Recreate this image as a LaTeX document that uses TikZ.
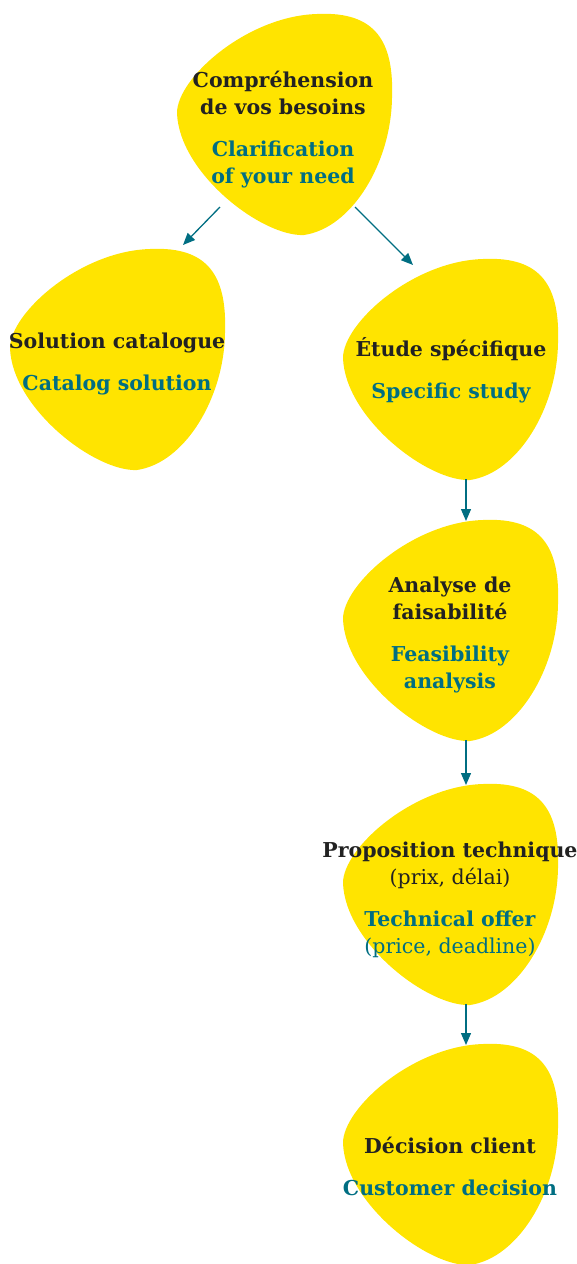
\documentclass[tikz,border=0pt]{standalone}
\usepackage{fontspec}
\setmainfont{DejaVu Serif}
\usetikzlibrary{arrows.meta}
\definecolor{blobyellow}{RGB}{255,228,0}
\definecolor{tealc}{RGB}{0,110,130}
\definecolor{ink}{RGB}{34,34,34}
\tikzset{
  blob/.pic={
    \fill[blobyellow] (0,100) .. controls (0,65) and (70,3) .. (140,1)
      .. controls (200,-2) and (217,30) .. (215,85)
      .. controls (214,150) and (175,215) .. (127,222)
      .. controls (85,224) and (2,160) .. (0,100) -- cycle;
    \coordinate (-bl) at (43,194);
    \coordinate (-br) at (178,194);
    \coordinate (-bot) at (123,221);
    \coordinate (-top) at (123,2);
    \coordinate (-topR) at (173,-3);
    \coordinate (-topL) at (70,7);
  },
  lbl/.style={align=center, font=\fontsize{20.5}{27}\selectfont\bfseries, text=ink, inner sep=0pt},
  conn/.style={draw=tealc, line width=1.3pt, -{Triangle[length=12pt,width=10pt]}}
}
\newcommand{\en}[1]{\textcolor{tealc}{#1}}
\begin{document}
\begin{tikzpicture}[x=1pt,y=-1pt]
\useasboundingbox (0,0) rectangle (577,1264);
\pic (b1) at (177,13) {blob};
\pic (b2) at (10,248) {blob};
\pic (b3) at (343,258) {blob};
\pic (b4) at (343,519) {blob};
\pic (b5) at (343,783) {blob};
\pic (b6) at (343,1043) {blob};

\node[lbl] (t1) at (283,130) {Compréhension\\de vos besoins\\[15pt]\en{Clarification}\\\en{of your need}};
\node[lbl] (t2) at (117,364) {Solution catalogue\\[15pt]\en{Catalog solution}};
\node[lbl] (t3) at (451,370) {Étude spécifique\\[15pt]\en{Specific study}};
\node[lbl] (t4) at (450,635) {Analyse de\\faisabilité\\[15pt]\en{Feasibility}\\\en{analysis}};
\node[lbl] (t5) at (450,900) {Proposition technique\\\textmd{(prix, délai)}\\[15pt]\en{Technical offer}\\\en{\textmd{(price, deadline)}}};
\node[lbl] (t6) at (450,1166) {Décision client\\[15pt]\en{Customer decision}};

\draw[conn] (b1-bl) -- (b2-topR);
\draw[conn] (b1-br) -- (b3-topL);
\draw[conn] (b3-bot) -- (b4-top);
\draw[conn] (b4-bot) -- (b5-top);
\draw[conn] (b5-bot) -- (b6-top);
\end{tikzpicture}
\end{document}
